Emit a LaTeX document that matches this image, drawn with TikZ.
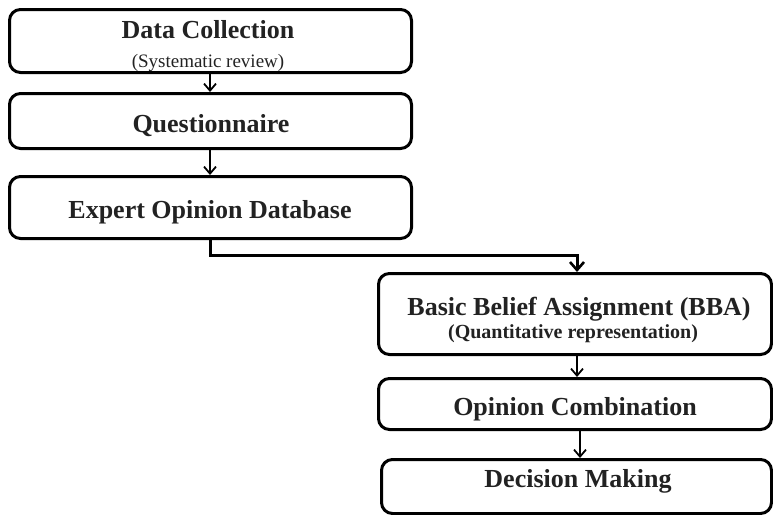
\documentclass[tikz,border=0pt]{standalone}
\usepackage{fontspec}
\setmainfont{Liberation Serif}
\usetikzlibrary{arrows.meta}
\definecolor{txt}{HTML}{222222}
\tikzset{
  box/.style={draw=black, line width=3pt, rounded corners=11pt, anchor=north west, inner sep=0pt},
  ttl/.style={anchor=base, text=txt, font=\fontsize{26}{28}\selectfont\bfseries, inner sep=0pt},
  subr/.style={anchor=base, text=txt, font=\fontsize{19}{22}\selectfont, inner sep=0pt},
  subb/.style={anchor=base, text=txt, font=\fontsize{20}{22}\selectfont\bfseries, inner sep=0pt},
  arr/.style={draw=black, line width=1.8pt, -{Straight Barb[length=7pt,width=12pt,line width=1.8pt]}},
  barr/.style={draw=black, line width=3pt, -{Straight Barb[length=8pt,width=14pt,line width=2.6pt]}}
}
\begin{document}
\begin{tikzpicture}[x=1pt,y=-1pt]
\useasboundingbox (0,0) rectangle (773,514);
\node[box, minimum width=402pt, minimum height=63pt] (dc) at (8,8) {};
\node[box, minimum width=402pt, minimum height=55pt] (q) at (8,92) {};
\node[box, minimum width=402pt, minimum height=62pt] (e) at (8,175) {};
\node[box, minimum width=393pt, minimum height=81pt] (bba) at (377,272) {};
\node[box, minimum width=393pt, minimum height=51pt] (oc) at (377,377) {};
\node[box, minimum width=390pt, minimum height=54pt] (dm) at (380,458) {};

\node[ttl] (dct) at (208,38) {Data Collection};
\node[subr] (dcs) at (208,67) {(Systematic review)};
\node[ttl] (qt) at (211,132) {Questionnaire};
\node[ttl] (et) at (210,218) {Expert Opinion Database};
\node[ttl] (bbat) at (579,315) {Basic Belief Assignment (BBA)};
\node[subb] (bbas) at (573,338) {(Quantitative representation)};
\node[ttl] (oct) at (575,415) {Opinion Combination};
\node[ttl] (dmt) at (578,487) {Decision Making};

\coordinate (c1) at (210,255);
\coordinate (c2) at (577,255);
\draw[arr] (dc.south -| 210,0) -- (q.north -| 210,0);
\draw[arr] (q.south -| 210,0) -- (e.north -| 210,0);
\draw[barr] (e.south -| c1) -- (c1) -- (c2) -- (bba.north -| c2);
\draw[arr] (bba.south -| 577,0) -- (oc.north -| 577,0);
\draw[arr] (oc.south -| 580,0) -- (dm.north -| 580,0);
\end{tikzpicture}
\end{document}
